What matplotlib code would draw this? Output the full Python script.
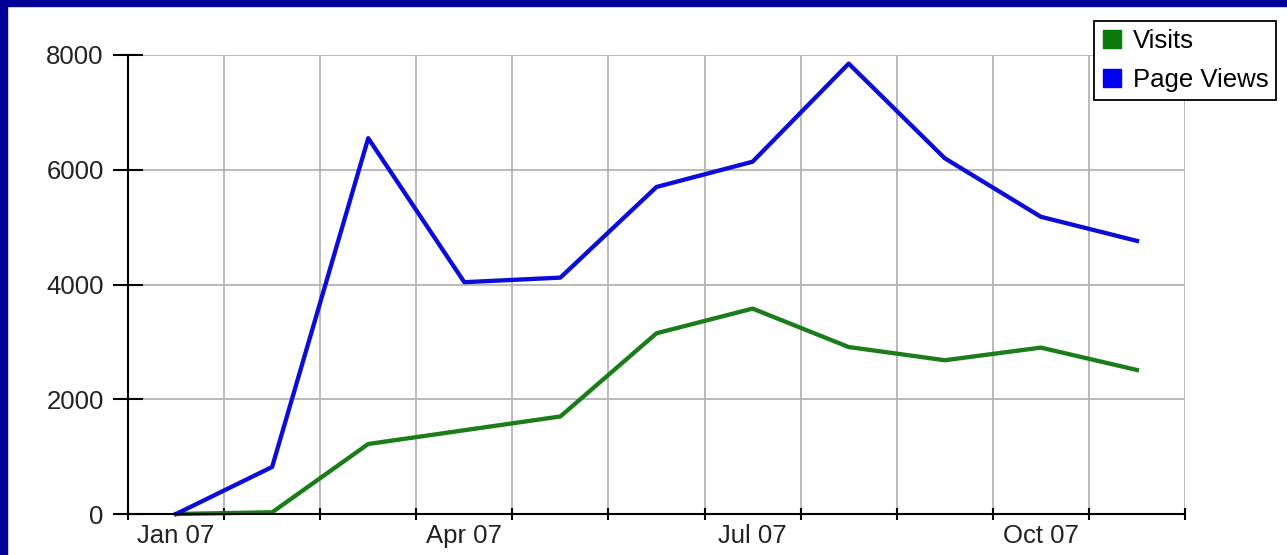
import numpy as np
from matplotlib import pyplot as plt
from matplotlib.lines import Line2D
from matplotlib.patches import Rectangle

plt.rcParams['font.family'] = ['Liberation Sans', 'DejaVu Sans']

# data
months = ['Jan 07', 'Feb 07', 'Mar 07', 'Apr 07', 'May 07', 'Jun 07',
          'Jul 07', 'Aug 07', 'Sep 07', 'Oct 07', 'Nov 07']
visits = [0, 30, 1220, 1460, 1700, 3150, 3580, 2910, 2680, 2900, 2510]
page_views = [0, 820, 6550, 4040, 4120, 5700, 6140, 7850, 6200, 5180, 4760]
yticks = [0, 2000, 4000, 6000, 8000]

green = '#1a7d1a'
blue = '#0c0cd8'

fig = plt.figure(figsize=(12.87, 5.55), dpi=100)
ax = fig.add_axes([128 / 1287, 1 - 514 / 555, (1185 - 128) / 1287, (514 - 55) / 555])

x = np.arange(len(months)) + 0.5
ax.plot(x, visits, color=green, lw=3.1, clip_on=False, zorder=3)
ax.plot(x, page_views, color=blue, lw=3.1, clip_on=False, zorder=4)

ax.set_xlim(0, len(months))
ax.set_ylim(0, 8000)

ax.set_xticks(np.arange(len(months) + 1))
ax.set_xticklabels([])
ax.set_xticks(x[::3], minor=True)
ax.set_xticklabels(months[::3], minor=True)
ax.set_yticks(yticks)
ax.set_yticklabels([str(v) for v in yticks])

ax.tick_params(axis='x', which='major', direction='inout', length=9, width=1.5, color='black')
ax.tick_params(axis='x', which='minor', length=0, pad=7.5, labelsize=18.5, labelcolor='#222222')
ax.tick_params(axis='y', direction='inout', length=21, width=1.5, color='black',
               pad=7, labelsize=18.5, labelcolor='#222222')

ax.grid(True, which='major', color='#b4b4b4', lw=1.3)
ax.set_axisbelow(True)
for s in ['top', 'right']:
    ax.spines[s].set_visible(False)
for s in ['left', 'bottom']:
    ax.spines[s].set_linewidth(1.5)
    ax.spines[s].set_zorder(5)

handles = [Line2D([], [], ls='none', marker='s', markersize=12.5, color='#0a7a0a'),
           Line2D([], [], ls='none', marker='s', markersize=12.5, color='#0000f0')]
leg = fig.legend(handles, ['Visits', 'Page Views'], loc='upper right',
                 bbox_to_anchor=(1276 / 1287, 1 - 21 / 555), fontsize=18.5,
                 frameon=True, fancybox=False, edgecolor='black', framealpha=1,
                 handlelength=0.8, handletextpad=0.4, borderpad=0.3,
                 labelspacing=0.61, borderaxespad=0)
leg.get_frame().set_linewidth(1.3)

# dark blue border on left and top edges
fig.patches.append(Rectangle((0, 0), 7 / 1287, 1, transform=fig.transFigure,
                             color='#000099', zorder=10))
fig.patches.append(Rectangle((0, 1 - 6 / 555), 1, 6 / 555, transform=fig.transFigure,
                             color='#000099', zorder=10))

fig.savefig('out.png', dpi=100)
